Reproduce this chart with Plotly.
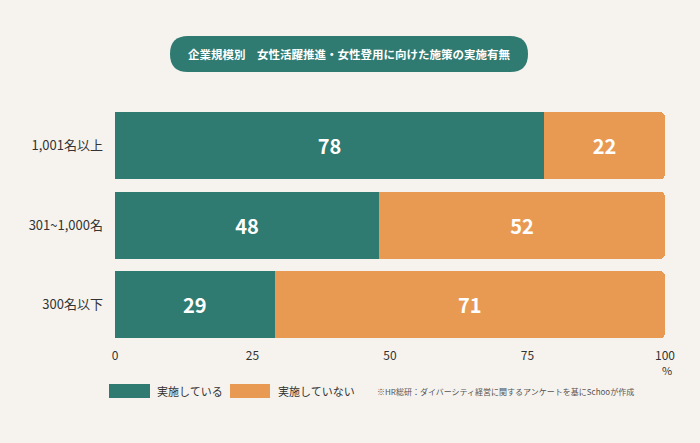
import plotly.graph_objects as go

W, H = 700, 443
categories = ["1,001名以上", "301~1,000名", "300名以下"]
implemented = [78, 48, 29]
not_implemented = [22, 52, 71]
series_names = ["実施している", "実施していない"]
x_ticks = [0, 25, 50, 75, 100]
title_text = "企業規模別　女性活躍推進・女性登用に向けた施策の実施有無"
note_text = "※HR総研：ダイバーシティ経営に関するアンケートを基にSchooが作成"

TEAL = "#2f7a71"
ORANGE = "#e89a53"
BG = "#f6f3ef"
FONT = "Noto Sans CJK JP"

fig = go.Figure()
fig.add_trace(go.Bar(y=categories, x=implemented, orientation="h", name=series_names[0],
                     marker=dict(color=TEAL, line=dict(width=0)),
                     text=implemented, textposition="inside", insidetextanchor="middle",
                     textfont=dict(color="white", size=20, family=FONT, weight="bold")))
fig.add_trace(go.Bar(y=categories, x=not_implemented, orientation="h", name=series_names[1],
                     marker=dict(color=ORANGE, line=dict(width=0)),
                     text=not_implemented, textposition="inside", insidetextanchor="middle",
                     textfont=dict(color="white", size=20, family=FONT, weight="bold")))

def px(x):
    return x / W

def py(y):
    return 1 - y / H

shapes = []
# title pill
x0, x1, y0, y1, r = 170, 528, 36, 72, 18
path = (f"M {px(x0 + r)},{py(y0)} L {px(x1 - r)},{py(y0)} "
        f"Q {px(x1)},{py(y0)} {px(x1)},{py((y0 + y1) / 2)} "
        f"Q {px(x1)},{py(y1)} {px(x1 - r)},{py(y1)} "
        f"L {px(x0 + r)},{py(y1)} "
        f"Q {px(x0)},{py(y1)} {px(x0)},{py((y0 + y1) / 2)} "
        f"Q {px(x0)},{py(y0)} {px(x0 + r)},{py(y0)} Z")
shapes.append(dict(type="path", xref="paper", yref="paper", path=path,
                   fillcolor=TEAL, line=dict(width=0)))
# legend swatches
for (a, b), c in zip([(109, 150), (230, 270)], [TEAL, ORANGE]):
    shapes.append(dict(type="rect", xref="paper", yref="paper",
                       x0=px(a), x1=px(b), y0=py(384), y1=py(398),
                       fillcolor=c, line=dict(width=0)))

def ann(text, x, y, size, color="#333333", xanchor="center"):
    return dict(text=text, x=px(x), y=py(y), xref="paper", yref="paper",
                xanchor=xanchor, yanchor="middle", showarrow=False,
                font=dict(color=color, size=size, family=FONT))

annotations = [
    ann(f"<b>{title_text}</b>", 349, 54, 11.5, color="white"),
    ann("%", 667, 370, 11),
    ann(series_names[0], 155, 391, 11, xanchor="left"),
    ann(series_names[1], 276, 391, 11, xanchor="left"),
    ann(note_text, 375, 391, 8, color="#555555", xanchor="left"),
]

fig.update_layout(
    width=W, height=H, barmode="stack", bargap=0.155, barcornerradius=5,
    paper_bgcolor=BG, plot_bgcolor=BG, showlegend=False,
    margin=dict(l=0, r=0, t=0, b=0, autoexpand=False),
    font=dict(family=FONT, color="#333333", size=12),
    xaxis=dict(domain=[px(115), px(665)], range=[0, 100], tickvals=x_ticks,
               automargin=False,
               showgrid=False, zeroline=False, showline=False, ticks="",
               ticklabelstandoff=2, tickfont=dict(size=12, color="#333333")),
    yaxis=dict(domain=[py(344.5), py(106)], autorange="reversed", automargin=False,
               showgrid=False, zeroline=False, showline=False, ticks="",
               ticklabelstandoff=11, tickfont=dict(size=13, color="#333333")),
    shapes=shapes, annotations=annotations,
)
fig.write_html("out.html", config={"displayModeBar": False},
               post_script="document.body.style.margin='0';"
                           "document.body.style.overflow='hidden';"
                           "document.documentElement.style.overflow='hidden';")
